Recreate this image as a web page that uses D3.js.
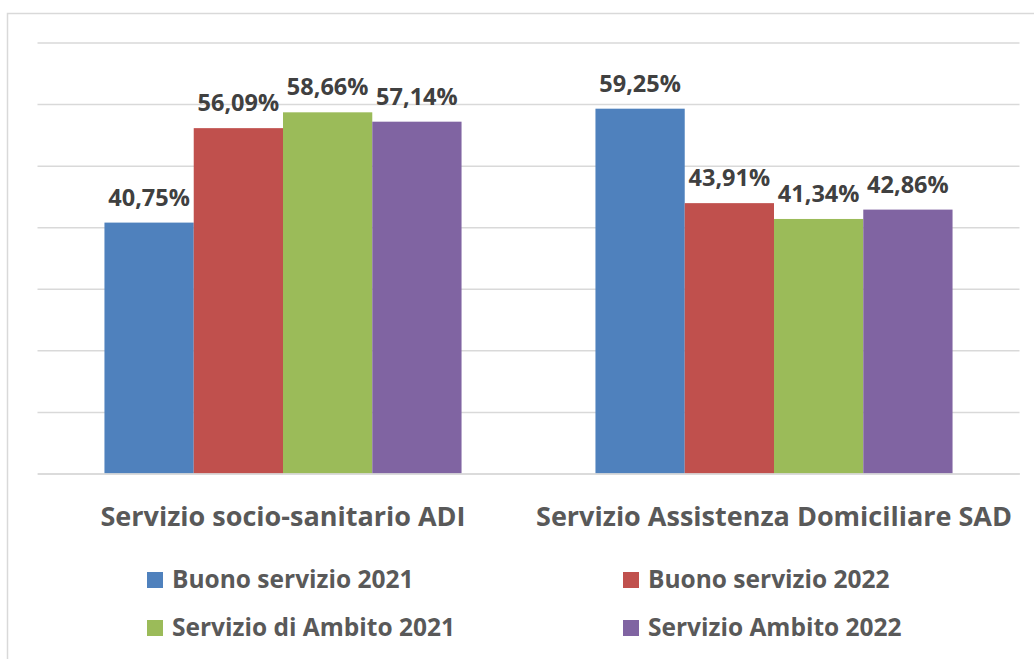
<!DOCTYPE html>
<html>
<head>
<meta charset="utf-8">
<script src="https://cdn.jsdelivr.net/npm/d3@7"></script>
<style>
  body { margin: 0; background: #fff; }
  text { font-family: "Open Sans", sans-serif; font-weight: bold; }
</style>
</head>
<body>
<div id="chart"></div>
<script>
// data
var categories = ["Servizio socio-sanitario ADI", "Servizio Assistenza Domiciliare SAD"];
var seriesNames = ["Buono servizio 2021", "Buono servizio 2022", "Servizio di Ambito 2021", "Servizio Ambito 2022"];
var buono2021 = [40.75, 59.25];
var buono2022 = [56.09, 43.91];
var ambito2021 = [58.66, 41.34];
var ambito2022 = [57.14, 42.86];
var yTicks = [0, 10, 20, 30, 40, 50, 60, 70];

var seriesValues = [buono2021, buono2022, ambito2021, ambito2022];
var colors = ["#4F81BD", "#C0504D", "#9BBB59", "#8064A2"];

var width = 1034, height = 659;
var svg = d3.select("#chart").append("svg")
  .attr("width", width)
  .attr("height", height);

// chart area frame (only top and left edges show)
svg.append("rect")
  .attr("x", 7.5).attr("y", 13.5)
  .attr("width", 1100).attr("height", 700)
  .attr("fill", "none")
  .attr("stroke", "#D9D9D9")
  .attr("stroke-width", 1.5);

var plot = { left: 37.5, right: 1019.5, top: 42.5, bottom: 473.5 };

var x0 = d3.scaleBand()
  .domain(categories)
  .range([plot.left, plot.right])
  .paddingInner(0);

var x1 = d3.scaleBand()
  .domain(seriesNames)
  .range([0, x0.bandwidth()])
  .paddingInner(0)
  .paddingOuter(0.75);

var y = d3.scaleLinear()
  .domain([0, 70])
  .range([plot.bottom, plot.top]);

// gridlines
var grid = svg.append("g")
  .attr("transform", "translate(" + plot.left + ",0)")
  .call(d3.axisLeft(y).tickValues(yTicks).tickSize(-(plot.right - plot.left)).tickFormat(""));
grid.select(".domain").remove();
grid.selectAll("line")
  .attr("stroke", "#D9D9D9")
  .attr("stroke-width", 1.5);

var it = d3.formatLocale({ decimal: ",", thousands: ".", grouping: [3], currency: ["", " €"] });
var fmt = it.format(".2f");

// bars
var groups = svg.selectAll(".cat")
  .data(categories)
  .enter().append("g")
  .attr("class", "cat")
  .attr("transform", function (d) { return "translate(" + x0(d) + ",0)"; });

groups.selectAll("rect")
  .data(function (d, ci) {
    return seriesNames.map(function (s, si) {
      return { series: s, value: seriesValues[si][ci], color: colors[si] };
    });
  })
  .enter().append("rect")
  .attr("x", function (d) { return x1(d.series); })
  .attr("y", function (d) { return y(d.value); })
  .attr("width", x1.bandwidth())
  .attr("height", function (d) { return y(0) - y(d.value); })
  .attr("fill", function (d) { return d.color; });

groups.selectAll(".val")
  .data(function (d, ci) {
    return seriesNames.map(function (s, si) {
      return { series: s, value: seriesValues[si][ci] };
    });
  })
  .enter().append("text")
  .attr("class", "val")
  .attr("x", function (d) { return x1(d.series) + x1.bandwidth() / 2; })
  .attr("y", function (d) { return y(d.value) - 17; })
  .attr("text-anchor", "middle")
  .style("font-size", "23.5px")
  .style("fill", "#404040")
  .text(function (d) { return fmt(d.value) + "%"; });

// category axis
var xAxis = svg.append("g")
  .attr("transform", "translate(0," + plot.bottom + ")")
  .call(d3.axisBottom(x0).tickSize(0).tickPadding(0));
xAxis.select(".domain")
  .attr("stroke", "#D9D9D9")
  .attr("stroke-width", 1.5);
xAxis.selectAll("text")
  .attr("dy", null)
  .attr("y", 52.5)
  .style("font-family", "'Open Sans', sans-serif")
  .style("font-weight", "bold")
  .style("font-size", "27px")
  .style("fill", "#595959");

// legend
var legendPos = [[147, 572], [623, 572], [147, 620], [623, 620]];
var legend = svg.selectAll(".leg")
  .data(seriesNames)
  .enter().append("g")
  .attr("class", "leg")
  .attr("transform", function (d, i) { return "translate(" + legendPos[i][0] + "," + legendPos[i][1] + ")"; });

legend.append("rect")
  .attr("width", 16).attr("height", 16)
  .attr("fill", function (d, i) { return colors[i]; });

legend.append("text")
  .attr("x", 25)
  .attr("y", 16)
  .style("font-size", "24.5px")
  .style("fill", "#595959")
  .text(function (d) { return d; });
</script>
</body>
</html>
